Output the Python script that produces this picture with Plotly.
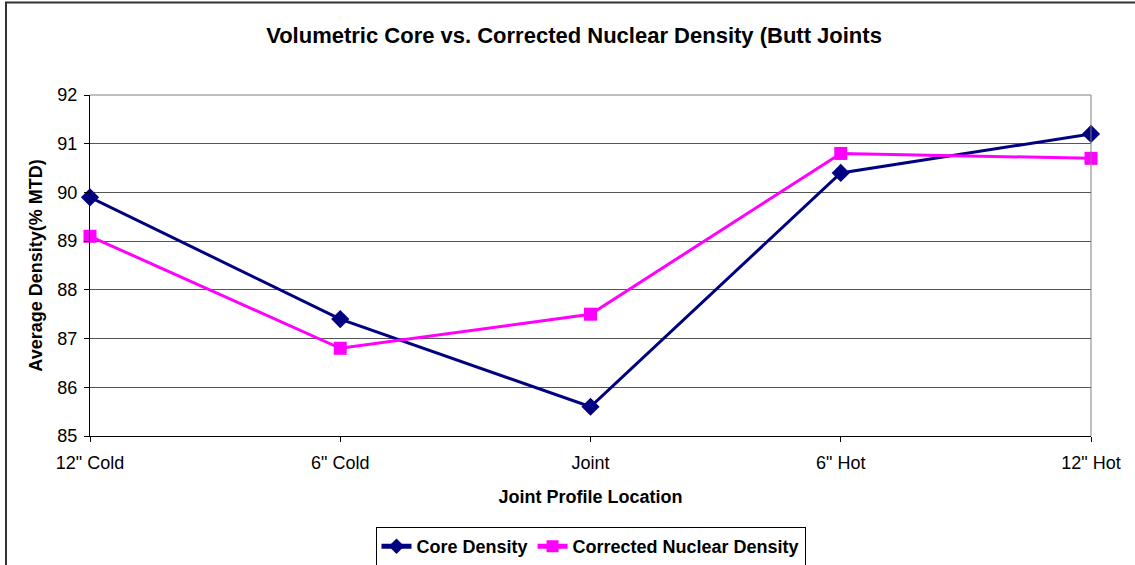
import plotly.graph_objects as go

categories = ['12" Cold', '6" Cold', 'Joint', '6" Hot', '12" Hot']
core_density = [89.9, 87.4, 85.6, 90.4, 91.2]
nuclear_density = [89.1, 86.8, 87.5, 90.8, 90.7]
y_ticks = [85, 86, 87, 88, 89, 90, 91, 92]

x_pos = list(range(len(categories)))

W, H = 1135, 565
L, R, T, B = 90, 44, 95, 129
PW, PH = W - L - R, H - T - B

fig = go.Figure()
fig.add_trace(go.Scatter(
    x=x_pos, y=core_density, name="Core Density", mode="lines+markers",
    line=dict(color="#000080", width=3),
    marker=dict(symbol="diamond", size=14, color="#000080"),
    cliponaxis=False,
))
fig.add_trace(go.Scatter(
    x=x_pos, y=nuclear_density, name="Corrected Nuclear Density", mode="lines+markers",
    line=dict(color="#FF00FF", width=3),
    marker=dict(symbol="square", size=13, color="#FF00FF"),
    cliponaxis=False,
))

font_family = "Liberation Sans, Arial, sans-serif"

fig.update_layout(
    width=W, height=H,
    margin=dict(l=L, r=R, t=T, b=B, autoexpand=False),
    paper_bgcolor="white", plot_bgcolor="white",
    font=dict(family=font_family, size=18, color="black"),
    title=dict(text="<b>Volumetric Core vs. Corrected Nuclear Density (Butt Joints</b>",
               x=574 / W, xanchor="center", y=1 - 35 / H, yanchor="middle",
               font=dict(size=22, family=font_family, color="black")),
    showlegend=True,
    legend=dict(orientation="h", x=(590.5 - L) / PW, xanchor="center",
                y=(H - B - 527) / PH, yanchor="top",
                bordercolor="black", borderwidth=1,
                font=dict(size=18, family=font_family, color="black", weight="bold"),
                itemwidth=30, tracegroupgap=0, itemsizing="constant"),
)

fig.update_xaxes(
    range=[0, 4], tickvals=x_pos, ticktext=categories,
    showgrid=False, zeroline=False, automargin=False,
    showline=True, linecolor="black", linewidth=1,
    ticks="outside", ticklen=5, tickcolor="black",
    tickfont=dict(size=18), ticklabelstandoff=5,
    title=dict(text="<b>Joint Profile Location</b>", font=dict(size=18), standoff=18),
)
fig.update_yaxes(
    range=[85, 92], tickvals=y_ticks,
    showgrid=True, gridcolor="#555555", gridwidth=1, zeroline=False, automargin=False,
    showline=True, linecolor="black", linewidth=1,
    ticks="outside", ticklen=5, tickcolor="black",
    tickfont=dict(size=18), ticklabelstandoff=3,
    title=dict(text="<b>Average Density(% MTD)</b>", font=dict(size=18), standoff=10),
)

# plot area gray border (top & right)
fig.add_shape(type="line", xref="paper", yref="paper", x0=0, x1=1, y0=1, y1=1,
              line=dict(color="#808080", width=1))
fig.add_shape(type="line", xref="paper", yref="paper", x0=1, x1=1, y0=0, y1=1,
              line=dict(color="#808080", width=1))
# outer chart frame
fig.add_shape(type="rect", xref="paper", yref="paper",
              x0=(6 - L) / PW, x1=(1145 - L) / PW,
              y0=(H - B - 580) / PH, y1=(H - B - 2.5) / PH,
              line=dict(color="#333333", width=2), layer="below")

fig.write_html("out.html", config={"displayModeBar": False},
               post_script="document.body.style.margin='0';")
